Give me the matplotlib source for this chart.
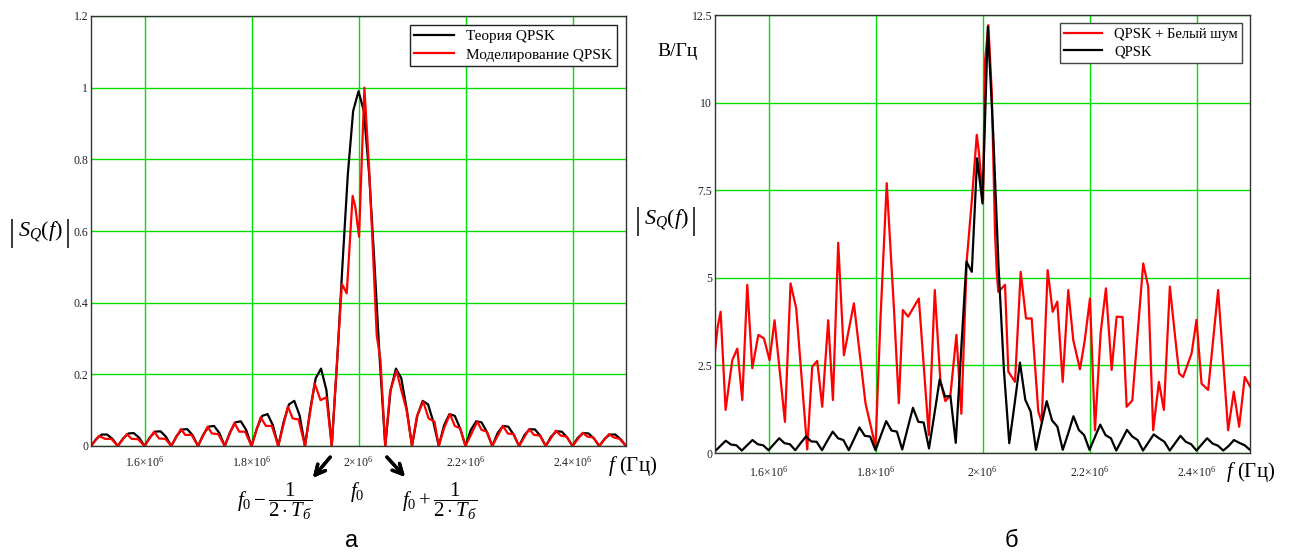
import matplotlib
matplotlib.use('Agg')
import numpy as np
import matplotlib.pyplot as plt

plt.rcParams['font.family'] = ['Liberation Serif', 'DejaVu Serif']
plt.rcParams['mathtext.fontset'] = 'custom'
plt.rcParams['mathtext.rm'] = 'Liberation Serif'
plt.rcParams['mathtext.it'] = 'Liberation Serif:italic'
plt.rcParams['mathtext.bf'] = 'Liberation Serif:bold'

# frequency grid of the theoretical spectrum, Hz (10 kHz step)
freq = np.arange(150, 251) * 1e4

# (a) theory |S_Q(f)|
theory_a = [
    0, 0.020, 0.032, 0.032, 0.020,
    0, 0.021, 0.035, 0.036, 0.023,
    0, 0.024, 0.040, 0.041, 0.026,
    0, 0.028, 0.046, 0.047, 0.030,
    0, 0.032, 0.054, 0.056, 0.036,
    0, 0.039, 0.066, 0.069, 0.045,
    0, 0.049, 0.084, 0.089, 0.058,
    0, 0.067, 0.116, 0.126, 0.085,
    0, 0.104, 0.189, 0.216, 0.156,
    0, 0.234, 0.505, 0.757, 0.935,
    0.99,
    0.935, 0.757, 0.505, 0.234, 0,
    0.156, 0.216, 0.189, 0.104, 0,
    0.085, 0.126, 0.116, 0.067, 0,
    0.058, 0.089, 0.084, 0.049, 0,
    0.045, 0.069, 0.066, 0.039, 0,
    0.036, 0.056, 0.054, 0.032, 0,
    0.030, 0.047, 0.046, 0.028, 0,
    0.026, 0.041, 0.040, 0.024, 0,
    0.023, 0.036, 0.035, 0.021, 0,
    0.020, 0.032, 0.032, 0.019, 0,
]

# (a) simulated QPSK, vertices (MHz, value)
sim_f = [
    1.500, 1.515, 1.526, 1.538, 1.550, 1.567, 1.576, 1.588, 1.600,
    1.618, 1.627, 1.639, 1.650, 1.668, 1.676, 1.688, 1.700,
    1.718, 1.726, 1.738, 1.750, 1.768, 1.777, 1.788, 1.800,
    1.817, 1.827, 1.838, 1.850, 1.868, 1.877, 1.888, 1.900,
    1.918, 1.929, 1.940, 1.950, 1.960, 1.969, 1.978, 1.989, 1.994,
    2.001, 2.011, 2.020, 2.025, 2.034, 2.041, 2.050,
    2.059, 2.071, 2.081, 2.090, 2.100, 2.109, 2.121, 2.131, 2.142, 2.150,
    2.160, 2.171, 2.180, 2.190, 2.200, 2.222, 2.230, 2.240, 2.250,
    2.270, 2.279, 2.290, 2.300, 2.319, 2.328, 2.339, 2.350,
    2.369, 2.378, 2.389, 2.400, 2.419, 2.428, 2.439, 2.450,
    2.468, 2.477, 2.488, 2.500,
]
sim_a = [
    0, 0.028, 0.020, 0.020, 0, 0.033, 0.020, 0.019, 0,
    0.040, 0.021, 0.020, 0, 0.047, 0.031, 0.031, 0,
    0.054, 0.035, 0.033, 0, 0.065, 0.040, 0.040, 0,
    0.080, 0.056, 0.056, 0, 0.110, 0.077, 0.074, 0,
    0.175, 0.128, 0.136, 0, 0.24, 0.452, 0.426, 0.698, 0.668,
    0.584, 1.00, 0.77, 0.61, 0.31, 0.24, 0,
    0.152, 0.210, 0.150, 0.100, 0, 0.082, 0.124, 0.077, 0.068, 0,
    0.05, 0.089, 0.056, 0.049, 0, 0.068, 0.045, 0.040, 0,
    0.056, 0.035, 0.033, 0, 0.047, 0.031, 0.029, 0,
    0.043, 0.029, 0.026, 0, 0.037, 0.026, 0.024, 0,
    0.033, 0.024, 0.020, 0,
]

# (b) QPSK without noise, V/Hz on the 10 kHz grid
qpsk_b = [
    0.05, 0.20, 0.35, 0.24, 0.22,
    0.07, 0.22, 0.37, 0.25, 0.22,
    0.08, 0.25, 0.42, 0.28, 0.25,
    0.08, 0.28, 0.47, 0.33, 0.32,
    0.08, 0.35, 0.61, 0.42, 0.37,
    0.08, 0.40, 0.73, 0.49, 0.47,
    0.08, 0.50, 0.91, 0.64, 0.61,
    0.10, 0.70, 1.29, 0.89, 0.87,
    0.13, 1.10, 2.10, 1.61, 1.63,
    0.29, 2.90, 5.46, 5.17, 8.41,
    7.12,
    12.17, 9.12, 5.32, 2.37, 0.28,
    1.40, 2.58, 1.52, 1.18, 0.09,
    0.80, 1.48, 0.93, 0.75, 0.09,
    0.55, 1.05, 0.66, 0.51, 0.09,
    0.45, 0.81, 0.51, 0.42, 0.07,
    0.36, 0.66, 0.47, 0.37, 0.07,
    0.30, 0.53, 0.42, 0.32, 0.07,
    0.28, 0.49, 0.32, 0.25, 0.07,
    0.25, 0.42, 0.27, 0.21, 0.07,
    0.20, 0.37, 0.29, 0.22, 0.09,
]

# (b) QPSK + white noise, vertices (MHz, value)
noise_f = [
    1.500, 1.505, 1.5105, 1.5198, 1.5323, 1.5417, 1.551, 1.5603, 1.5697,
    1.581, 1.5915, 1.602, 1.6113, 1.6307, 1.6412, 1.6518, 1.6724, 1.6817,
    1.691, 1.7004, 1.7116, 1.7204, 1.7303, 1.7409, 1.7596, 1.7813, 1.800,
    1.8092, 1.821, 1.8343, 1.8436, 1.8511, 1.861, 1.881, 1.8996, 1.9108,
    1.9213, 1.9306, 1.940, 1.9512, 1.9605, 1.9706, 1.980, 1.9893, 1.9935,
    2.001, 2.0048, 2.011, 2.0173, 2.0234, 2.0266, 2.0296, 2.0421, 2.0483,
    2.0608, 2.0714, 2.0813, 2.0919, 2.1043, 2.1106, 2.1218, 2.1312, 2.1398,
    2.1499, 2.1603, 2.1697, 2.1822, 2.191, 2.2009, 2.2102, 2.2208, 2.2307,
    2.2414, 2.2507, 2.2619, 2.2694, 2.280, 2.3004, 2.3097, 2.319, 2.3297,
    2.339, 2.3502, 2.360, 2.3676, 2.375, 2.3908, 2.400, 2.4094, 2.4218,
    2.4404, 2.4591, 2.4697, 2.4797, 2.4903, 2.500,
]
noise_b = [
    2.9, 3.6, 4.03, 1.23, 2.65, 2.98, 1.51, 4.8, 2.42,
    3.37, 3.27, 2.65, 3.79, 0.89, 4.84, 4.13, 0.10, 2.46,
    2.63, 1.32, 3.79, 1.51, 6.0, 2.79, 4.27, 1.42, 0.18,
    3.79, 7.7, 4.17, 1.42, 4.08, 3.89, 4.41, 0.51, 4.65,
    2.05, 1.48, 1.65, 3.37, 1.12, 5.5, 7.2, 9.08, 8.55,
    7.2, 11.2, 12.21, 10.3, 6.27, 5.14, 4.6, 4.8, 2.32,
    2.03, 5.17, 3.84, 3.84, 1.18, 0.89, 5.22, 4.03, 4.32,
    2.03, 4.65, 3.22, 2.39, 3.2, 4.41, 0.65, 3.42, 4.7,
    2.37, 3.89, 3.88, 1.32, 1.5, 5.41, 4.75, 0.65, 2.03,
    1.23, 4.75, 3.32, 2.27, 2.17, 2.84, 3.8, 1.98, 1.8,
    4.65, 0.65, 1.75, 0.75, 2.17, 1.9,
]

xticks = [1.6e6, 1.8e6, 2.0e6, 2.2e6, 2.4e6]
xticklabels = ['$1.6×10^{6}$', '$1.8×10^{6}$', '$2×10^{6}$', '$2.2×10^{6}$', '$2.4×10^{6}$']
yticks_a = [0, 0.2, 0.4, 0.6, 0.8, 1.0, 1.2]
ylabels_a = ['0', '0.2', '0.4', '0.6', '0.8', '1', '1.2']
yticks_b = [0, 2.5, 5, 7.5, 10, 12.5]
ylabels_b = ['0', '2.5', '5', '7.5', '10', '12.5']

grid_green = '#00e000'
frame_col = '#333333'

fig = plt.figure(figsize=(12.94, 5.56), dpi=100)
ax1 = fig.add_axes([91 / 1294, 110 / 556, 535 / 1294, 430 / 556])
ax2 = fig.add_axes([715 / 1294, 103 / 556, 535 / 1294, 438 / 556])


def style_axes(ax, yticks, ylabels, xpad):
    ax.set_xlim(1.5e6, 2.5e6)
    ax.set_xticks(xticks)
    ax.set_xticklabels(xticklabels)
    ax.set_yticks(yticks)
    ax.set_yticklabels(ylabels)
    ax.set_ylim(yticks[0], yticks[-1])
    ax.grid(True, color=grid_green, lw=1.0)
    ax.set_axisbelow(True)
    ax.tick_params(axis='both', length=0, labelsize=8.5, colors='#222222')
    ax.tick_params(axis='x', pad=xpad)
    ax.tick_params(axis='y', pad=2)
    for s in ax.spines.values():
        s.set_color(frame_col)
        s.set_linewidth(1.0)


# --- left: theory vs simulation
ax1.plot(freq, theory_a, color='black', lw=1.6, label='Теория QPSK')
ax1.plot(np.array(sim_f) * 1e6, sim_a, color='#ff0000', lw=1.6, label='Моделирование QPSK')
style_axes(ax1, yticks_a, ylabels_a, 6.5)
leg1 = ax1.legend(loc='upper right', fontsize=11, fancybox=False, framealpha=1,
                  edgecolor='#222222', borderaxespad=0.6, handlelength=2.6,
                  borderpad=0.3, labelspacing=0.3)
leg1.get_frame().set_linewidth(1.0)

# --- right: with white noise
ax2.plot(np.array(noise_f) * 1e6, noise_b, color='#ff0000', lw=1.6, label='QPSK + Белый шум')
ax2.plot(freq, qpsk_b, color='black', lw=1.6, label='QPSK')
style_axes(ax2, yticks_b, ylabels_b, 8.5)
leg2 = ax2.legend(loc='upper right', fontsize=10.5, fancybox=False, framealpha=1,
                  edgecolor='#444444', borderaxespad=0.55, handlelength=2.6,
                  borderpad=0.3, labelspacing=0.3)
leg2.get_frame().set_linewidth(1.0)


def abs_label(cx, cy):
    # |S_Q(f)| with tall bars, centred on pixel (cx, cy)
    fig.text(cx / 1294, 1 - cy / 556, r'$S_Q(f)$', fontsize=16, ha='center', va='center')
    for dx in (-28, 28):
        fig.text((cx + dx) / 1294, 1 - (cy + 1) / 556, '|', fontsize=22,
                 ha='center', va='center', fontweight='light')


abs_label(40, 232)
abs_label(666, 220)
fig.text(678 / 1294, 1 - 52 / 556, 'В/Гц', fontsize=14, ha='center', va='center')
fig.text(633 / 1294, 1 - 466 / 556, '$f$ (Гц)', fontsize=15, ha='center', va='center')
fig.text(1251 / 1294, 1 - 472 / 556, '$f$ (Гц)', fontsize=15, ha='center', va='center')

# annotations under the left plot
fig.text(275 / 1294, 1 - 501 / 556, r'$f_0 - \dfrac{1}{2\cdot T_{б}}$', fontsize=15, ha='center', va='center')
fig.text(357 / 1294, 1 - 492 / 556, r'$f_0$', fontsize=15, ha='center', va='center')
fig.text(440 / 1294, 1 - 501 / 556, r'$f_0 + \dfrac{1}{2\cdot T_{б}}$', fontsize=15, ha='center', va='center')
for tail, head in [((332, 455), (311, 480)), ((385, 455), (407, 479))]:
    fig.add_artist(plt.annotate('', xy=(head[0] / 1294, 1 - head[1] / 556),
                                xytext=(tail[0] / 1294, 1 - tail[1] / 556),
                                xycoords='figure fraction', textcoords='figure fraction',
                                arrowprops=dict(arrowstyle='->', lw=2.4, color='black',
                                                mutation_scale=18)))

fig.text(352 / 1294, 1 - 541 / 556, 'а', fontsize=17, family='Liberation Sans', ha='center', va='center')
fig.text(1011 / 1294, 1 - 541 / 556, 'б', fontsize=17, family='Liberation Sans', ha='center', va='center')

plt.savefig('out.png', dpi=100)
